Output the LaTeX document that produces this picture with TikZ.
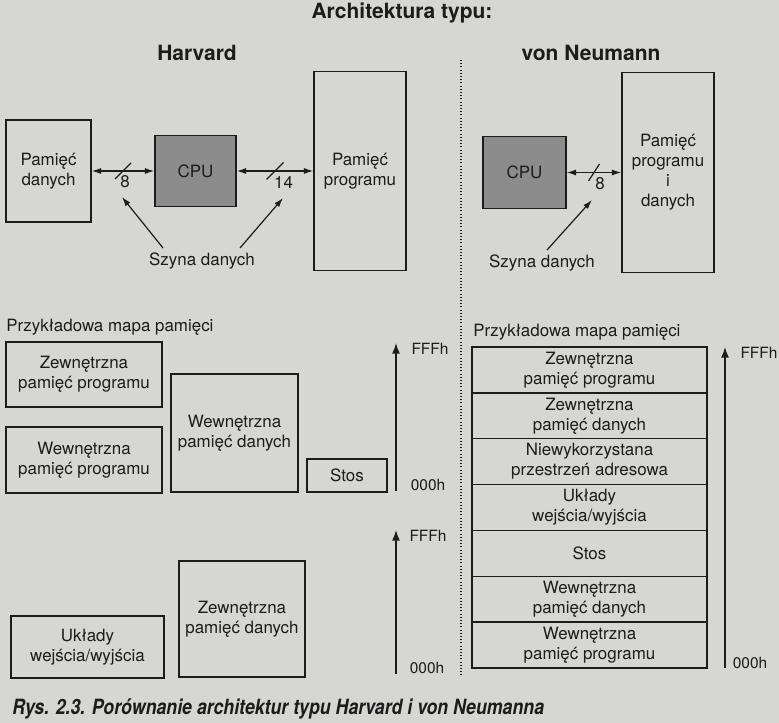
\documentclass[tikz,border=0pt]{standalone}
\usepackage{fontspec}
\setmainfont{TeX Gyre Heros}
\newfontfamily\capfont[FakeStretch=0.845]{TeX Gyre Heros}
\usetikzlibrary{arrows.meta}
\definecolor{paper}{RGB}{214,214,211}
\definecolor{ink}{RGB}{28,28,28}
\definecolor{cpugray}{RGB}{140,140,140}

\begin{document}
\begin{tikzpicture}[x=0.75pt,y=0.75pt,yscale=-1,xscale=1,
  font=\fontsize{12.7}{15}\selectfont, text=ink,
  box/.style 2 args={draw=ink, line width=1.1pt, minimum width=#1*0.75pt, minimum height=#2*0.75pt, inner sep=0pt, align=center},
  cpubox/.style 2 args={box={#1}{#2}, fill=cpugray},
  head/.style={font=\fontsize{15.75}{19}\selectfont\bfseries},
  addr/.style={font=\fontsize{11.6}{14}\selectfont},
  bus/.style={draw=ink, line width=0.9pt, {Latex[length=7pt,width=4.5pt]}-{Latex[length=7pt,width=4.5pt]}},
  slash/.style={draw=ink, line width=0.9pt},
  ptr/.style={draw=ink, line width=0.9pt, -{Latex[length=7pt,width=4.5pt]}},
  uparrow/.style={draw=ink, line width=1.1pt, -{Latex[length=8pt,width=6pt]}}]
\useasboundingbox (0,0) rectangle (779,723);
\fill[paper] (0,0) rectangle (779,723);

% Text Node
\node (title) [head] at (402,13) {Architektura typu:};
% Text Node
\node (harv) [head] at (197,53) {Harvard};
% Text Node
\node (neum) [head] at (591,53) {von Neumann};
%Straight Lines
\draw [ink, line width=0.8pt, dash pattern=on 0.8pt off 1.6pt] (461,60) -- (461,677);

%Shape: Rectangle
\node (mdata) [box={85}{102}] at (48.5,171) {Pamięć\\danych};
%Shape: Rectangle
\node (cpuH) [cpubox={81}{71}] at (195.5,171) {CPU};
%Shape: Rectangle
\node (mprog) [box={92}{199}] at (360,171) {Pamięć\\programu};

%Bus
\draw [bus] (mdata.east) -- coordinate[midway] (b1) (cpuH.west);
\draw [slash] ([shift={(-8,8)}]b1) -- ([shift={(8,-8)}]b1);
\node (w8H) at ([shift={(2,11)}]b1) {8};
\draw [bus] (cpuH.east) -- coordinate[midway] (b2) (mprog.west);
\draw [slash] ([shift={(-8.5,8.5)}]b2) -- ([shift={(8.5,-8.5)}]b2);
\node (w14H) at ([shift={(8.5,12)}]b2) {14};

% Text Node
\node (szH) at (202,261) {Szyna danych};
\coordinate (tipH1) at (122,197);
\coordinate (tipH2) at (283,198);
\draw [ptr] ([shift={(-39,-13)}]szH.center) -- (tipH1);
\draw [ptr] ([shift={(38,-13)}]szH.center) -- (tipH2);

%Shape: Rectangle
\node (cpuN) [cpubox={83}{72}] at (524.5,172.5) {CPU};
%Shape: Rectangle
\node (mvn) [box={92}{200}] at (668,172.5) {Pamięć\\programu\\i\\danych};
\draw [bus] (cpuN.east) -- coordinate[midway] (b3) (mvn.west);
\draw [slash] ([shift={(-5.5,8.5)}]b3) -- ([shift={(5.5,-8.5)}]b3);
\node (w8N) at ([shift={(6,11.5)}]b3) {8};

% Text Node
\node (szN) at (542,263) {Szyna danych};
\coordinate (tipN) at (592,200);
\draw [ptr] ([shift={(5,-13)}]szN.center) -- (tipN);

% Text Node
\node (mapH) [anchor=west, inner sep=0pt] at (6,327) {Przykładowa mapa pamięci};
%Shape: Rectangle
\node (zppH) [box={156}{65}] at (84,374.5) {Zewnętrzna\\pamięć programu};
%Shape: Rectangle
\node (wppH) [box={156}{66}] at (84,460) {Wewnętrzna\\pamięć programu};
%Shape: Rectangle
\node (wpdH) [box={127}{118}] at (234.5,433) {Wewnętrzna\\pamięć danych};
%Shape: Rectangle
\node (stosH) [box={80}{33}] at (347,475.5) {Stos};
\coordinate (lo1) at (396,491);
\coordinate (hi1) at (396,343);
\draw [uparrow] (lo1) -- (hi1);
\node (fff1) [addr] at (430,349) {FFFh};
\node (zero1) [addr] at (428,485) {000h};

%Shape: Rectangle
\node (uwyH) [box={153}{62}] at (87.5,647) {Układy\\wejścia/wyjścia};
%Shape: Rectangle
\node (zpdH) [box={126}{116}] at (242,619) {Zewnętrzna\\pamięć danych};
\coordinate (lo2) at (396,674);
\coordinate (hi2) at (396,530);
\draw [uparrow] (lo2) -- (hi2);
\node (fff2) [addr] at (428,536) {FFFh};
\node (zero2) [addr] at (427,668) {000h};

% Text Node
\node (mapN) [anchor=west, inner sep=0pt] at (473,332) {Przykładowa mapa pamięci};
%Shape: Rectangle
\node (s1) [box={235}{45.86}] at (589.5,369.9) {Zewnętrzna\\pamięć programu};
\node (s2) [box={235}{45.86}] at (589.5,415.8) {Zewnętrzna\\pamięć danych};
\node (s3) [box={235}{45.86}] at (589.5,461.6) {Niewykorzystana\\przestrzeń adresowa};
\node (s4) [box={235}{45.86}] at (589.5,507.5) {Układy\\wejścia/wyjścia};
\node (s5) [box={235}{45.86}] at (589.5,553.4) {Stos};
\node (s6) [box={235}{45.86}] at (589.5,599.2) {Wewnętrzna\\pamięć danych};
\node (s7) [box={235}{45.86}] at (589.5,645.1) {Wewnętrzna\\pamięć programu};
\coordinate (lo3) at (725,668);
\coordinate (hi3) at (725,347);
\draw [uparrow] (lo3) -- (hi3);
\node (fff3) [addr] at (759,353) {FFFh};
\node (zero3) [addr] at (750,663) {000h};

% Text Node
\node (cap) [anchor=base west, inner sep=0pt, font=\capfont\fontsize{15.75}{19}\selectfont\bfseries\itshape] at (12,715) {Rys. 2.3. Porównanie architektur typu Harvard i von Neumanna};

\end{tikzpicture}
\end{document}
